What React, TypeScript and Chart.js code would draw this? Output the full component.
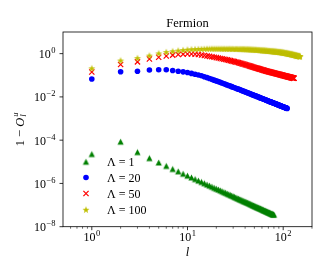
import React, { useEffect, useRef } from "react";
import { Chart, registerables } from "chart.js";

Chart.register(...registerables);

const TITLE = "Fermion";
const X_LABEL = "l";
const legendLabels = ["Λ = 1", "Λ = 20", "Λ = 50", "Λ = 100"];
const seriesColors = ["#008000", "#0000ff", "#ff0000", "#bfbf00"];

const xMajorTicks = [1, 10, 100];
const xTickExponents = ["0", "1", "2"];
const xMinorTicks = [0.6, 0.7, 0.8, 0.9, 2, 3, 4, 5, 6, 7, 8, 9, 20, 30, 40, 50, 60, 70, 80, 90, 200];
const yMajorTicks = [1e-8, 1e-6, 1e-4, 1e-2, 1];
const yTickExponents = ["−8", "−6", "−4", "−2", "0"];

// log10(1 - O_l^u), for l = 1, 2, 3, ...
const lambda1Log10 = [
  -4.64, -4.07, -4.55, -4.83, -5.03, -5.19, -5.33, -5.44, -5.55, -5.64,
  -5.72, -5.8, -5.87, -5.93, -5.99, -6.05, -6.1, -6.15, -6.2, -6.24,
  -6.28, -6.32, -6.36, -6.4, -6.43, -6.47, -6.5, -6.53, -6.56, -6.59,
  -6.62, -6.65, -6.68, -6.7, -6.73, -6.75, -6.77, -6.8, -6.82, -6.84,
  -6.86, -6.88, -6.9, -6.92, -6.94, -6.96, -6.98, -7.0, -7.02, -7.04,
  -7.05, -7.07, -7.09, -7.1, -7.12, -7.13, -7.15, -7.16, -7.18, -7.19,
  -7.21, -7.22, -7.24, -7.25, -7.26, -7.28, -7.29, -7.3, -7.32, -7.33,
  -7.34, -7.35, -7.36, -7.38, -7.39, -7.4, -7.41, -7.42, -7.43, -7.44,
];
const lambda20Log10 = [
  -1.17, -0.835, -0.815, -0.76, -0.745, -0.745, -0.78, -0.813, -0.842, -0.872,
  -0.913, -0.95, -0.985, -1.024, -1.069, -1.111, -1.15, -1.188, -1.225, -1.261,
  -1.295, -1.328, -1.36, -1.39, -1.42, -1.448, -1.474, -1.501, -1.526, -1.551,
  -1.574, -1.598, -1.621, -1.641, -1.663, -1.684, -1.705, -1.726, -1.745, -1.764,
  -1.783, -1.801, -1.819, -1.836, -1.854, -1.871, -1.887, -1.903, -1.918, -1.934,
  -1.95, -1.964, -1.978, -1.992, -2.006, -2.02, -2.034, -2.046, -2.06, -2.072,
  -2.085, -2.097, -2.109, -2.122, -2.134, -2.146, -2.156, -2.169, -2.179, -2.19,
  -2.2, -2.211, -2.221, -2.232, -2.242, -2.253, -2.261, -2.272, -2.282, -2.291,
  -2.299, -2.31, -2.319, -2.328, -2.336, -2.345, -2.356, -2.363, -2.371, -2.38,
  -2.389, -2.398, -2.405, -2.413, -2.422, -2.429, -2.438, -2.445, -2.453, -2.46,
  -2.467, -2.476, -2.483, -2.49, -2.497, -2.504, -2.511, -2.518, -2.525, -2.532,
];
const lambda50Log10 = [
  -0.85, -0.5, -0.38, -0.25, -0.17, -0.11, -0.07, -0.04, -0.025, -0.017,
  -0.02, -0.03, -0.043, -0.061, -0.085, -0.107, -0.127, -0.147, -0.167, -0.186,
  -0.205, -0.222, -0.24, -0.256, -0.272, -0.289, -0.306, -0.324, -0.34, -0.356,
  -0.371, -0.387, -0.402, -0.416, -0.43, -0.445, -0.461, -0.478, -0.492, -0.507,
  -0.522, -0.536, -0.549, -0.563, -0.576, -0.59, -0.602, -0.614, -0.626, -0.638,
  -0.65, -0.661, -0.672, -0.683, -0.694, -0.704, -0.715, -0.725, -0.736, -0.745,
  -0.754, -0.764, -0.773, -0.783, -0.792, -0.801, -0.809, -0.817, -0.824, -0.831,
  -0.838, -0.845, -0.852, -0.858, -0.865, -0.872, -0.878, -0.885, -0.892, -0.898,
  -0.903, -0.91, -0.916, -0.922, -0.927, -0.933, -0.94, -0.945, -0.95, -0.956,
  -0.962, -0.968, -0.972, -0.978, -0.984, -0.988, -0.994, -0.999, -1.004, -1.009,
  -1.014, -1.019, -1.024, -1.028, -1.033, -1.038, -1.042, -1.047, -1.051, -1.056,
  -1.061, -1.065, -1.07, -1.074, -1.079, -1.082, -1.087, -1.091, -1.096, -1.099,
  -1.104, -1.107, -1.112, -1.115, -1.12, -1.123, -1.128, -1.131, -1.136, -1.139,
];
const lambda100Log10 = [
  -0.68, -0.32, -0.21, -0.09, 0.01, 0.07, 0.11, 0.14, 0.165, 0.185,
  0.197, 0.205, 0.212, 0.217, 0.221, 0.224, 0.226, 0.228, 0.228, 0.227,
  0.226, 0.225, 0.224, 0.223, 0.222, 0.221, 0.22, 0.22, 0.219, 0.218,
  0.217, 0.216, 0.215, 0.213, 0.212, 0.211, 0.209, 0.208, 0.206, 0.204,
  0.202, 0.2, 0.197, 0.195, 0.192, 0.19, 0.187, 0.185, 0.183, 0.18,
  0.178, 0.176, 0.173, 0.171, 0.168, 0.165, 0.162, 0.159, 0.156, 0.153,
  0.15, 0.148, 0.145, 0.143, 0.14, 0.138, 0.135, 0.132, 0.129, 0.127,
  0.124, 0.121, 0.118, 0.116, 0.113, 0.11, 0.108, 0.105, 0.103, 0.1,
  0.097, 0.095, 0.092, 0.09, 0.087, 0.085, 0.082, 0.08, 0.077, 0.075,
  0.072, 0.07, 0.067, 0.064, 0.061, 0.058, 0.055, 0.051, 0.048, 0.045,
  0.041, 0.038, 0.034, 0.031, 0.027, 0.024, 0.02, 0.017, 0.013, 0.01,
  0.006, 0.003, -0.001, -0.004, -0.008, -0.011, -0.015, -0.018, -0.022, -0.025,
  -0.029, -0.032, -0.036, -0.039, -0.043, -0.046, -0.05, -0.054, -0.058, -0.061,
  -0.065, -0.069, -0.073, -0.076, -0.08, -0.084, -0.088, -0.092, -0.096, -0.1,
  -0.103, -0.106, -0.109, -0.112, -0.114, -0.117, -0.12, -0.122, -0.125, -0.128,
];

const SERIF = "'Liberation Serif', 'DejaVu Serif', serif";

function makeTriangle(color: string): HTMLCanvasElement {
  const s = 9;
  const c = document.createElement("canvas");
  c.width = s;
  c.height = s;
  const g = c.getContext("2d")!;
  g.fillStyle = color;
  const cx = s / 2, cy = s / 2, h = 3.1;
  g.beginPath();
  g.moveTo(cx, cy - h);
  g.lineTo(cx + h, cy + h);
  g.lineTo(cx - h, cy + h);
  g.closePath();
  g.fill();
  return c;
}

function makeStar(color: string): HTMLCanvasElement {
  const s = 10;
  const c = document.createElement("canvas");
  c.width = s;
  c.height = s;
  const g = c.getContext("2d")!;
  g.fillStyle = color;
  const cx = s / 2, cy = s / 2 + 0.3, R = 3.7, r = 1.5;
  g.beginPath();
  for (let i = 0; i < 10; i++) {
    const a = -Math.PI / 2 + (i * Math.PI) / 5;
    const rad = i % 2 === 0 ? R : r;
    const px = cx + Math.cos(a) * rad;
    const py = cy + Math.sin(a) * rad;
    if (i === 0) g.moveTo(px, py);
    else g.lineTo(px, py);
  }
  g.closePath();
  g.fill();
  return c;
}

function toPoints(arr: number[]) {
  return arr.map((lv, i) => ({ x: i + 1, y: Math.pow(10, lv) }));
}

function drawPow(ctx: CanvasRenderingContext2D, x: number, y: number, exp: string, align: "center" | "right") {
  const big = `12px ${SERIF}`;
  const small = `8.5px ${SERIF}`;
  ctx.font = big;
  const w10 = ctx.measureText("10").width;
  ctx.font = small;
  const we = ctx.measureText(exp).width;
  const w = w10 + we + 0.5;
  const start = align === "center" ? x - w / 2 : x - w;
  ctx.textAlign = "left";
  ctx.textBaseline = "alphabetic";
  ctx.font = big;
  ctx.fillText("10", start, y);
  ctx.font = small;
  ctx.fillText(exp, start + w10 + 0.5, y - 5);
}

export default function App() {
  const ref = useRef<HTMLCanvasElement>(null);

  useEffect(() => {
    document.body.style.margin = "0";
    const canvas = ref.current;
    if (!canvas) return;
    const triangle = makeTriangle(seriesColors[0]);
    const star = makeStar(seriesColors[3]);

    const decorPlugin = {
      id: "decor",
      afterDraw(chart: any) {
        const ctx: CanvasRenderingContext2D = chart.ctx;
        const ca = chart.chartArea;
        const xs = chart.scales.x;
        const ys = chart.scales.y;
        ctx.save();
        ctx.strokeStyle = "#000";
        ctx.fillStyle = "#000";
        ctx.lineWidth = 0.8;
        ctx.strokeRect(ca.left, ca.top, ca.right - ca.left, ca.bottom - ca.top);

        ctx.beginPath();
        xMajorTicks.forEach((v) => {
          const px = xs.getPixelForValue(v);
          ctx.moveTo(px, ca.bottom);
          ctx.lineTo(px, ca.bottom + 3.5);
        });
        yMajorTicks.forEach((v) => {
          const py = ys.getPixelForValue(v);
          ctx.moveTo(ca.left, py);
          ctx.lineTo(ca.left - 3.5, py);
        });
        ctx.stroke();
        ctx.lineWidth = 0.6;
        ctx.beginPath();
        xMinorTicks.forEach((v) => {
          const px = xs.getPixelForValue(v);
          ctx.moveTo(px, ca.bottom);
          ctx.lineTo(px, ca.bottom + 2);
        });
        ctx.stroke();

        xMajorTicks.forEach((v, i) => {
          drawPow(ctx, xs.getPixelForValue(v), ca.bottom + 14.5, xTickExponents[i], "center");
        });
        yMajorTicks.forEach((v, i) => {
          drawPow(ctx, ca.left - 7.5, ys.getPixelForValue(v) + 4.5, yTickExponents[i], "right");
        });

        ctx.textAlign = "center";
        ctx.textBaseline = "alphabetic";
        ctx.font = `12.5px ${SERIF}`;
        ctx.fillText(TITLE, (ca.left + ca.right) / 2, ca.top - 5);

        ctx.font = `italic 12.5px ${SERIF}`;
        ctx.fillText(X_LABEL, (ca.left + ca.right) / 2, ca.bottom + 29.5);

        ctx.save();
        ctx.translate(19, (ca.top + ca.bottom) / 2);
        ctx.rotate(-Math.PI / 2);
        ctx.textAlign = "left";
        const f1 = `12.5px ${SERIF}`;
        const fi = `italic 12.5px ${SERIF}`;
        const fs = `italic 8.5px ${SERIF}`;
        ctx.font = f1;
        const wA = ctx.measureText("1 − ").width;
        ctx.font = fi;
        const wO = ctx.measureText("O").width;
        ctx.font = fs;
        const wS = Math.max(ctx.measureText("u").width, ctx.measureText("l").width);
        const total = wA + wO + 1 + wS;
        let sx = -total / 2;
        const by = 4.5;
        ctx.font = f1;
        ctx.fillText("1 − ", sx, by);
        sx += wA;
        ctx.font = fi;
        ctx.fillText("O", sx, by);
        sx += wO + 1;
        ctx.font = fs;
        ctx.fillText("u", sx, by - 5.5);
        ctx.fillText("l", sx, by + 2.5);
        ctx.restore();

        const lx = ca.left + 23;
        const tx = ca.left + 44;
        const rows = [161.7, 177.5, 193.5, 209.7];
        ctx.font = `12px ${SERIF}`;
        ctx.textAlign = "left";
        ctx.textBaseline = "alphabetic";
        rows.forEach((ry, i) => {
          if (i === 0) ctx.drawImage(triangle, lx - triangle.width / 2, ry - triangle.height / 2);
          if (i === 1) {
            ctx.fillStyle = seriesColors[1];
            ctx.beginPath();
            ctx.arc(lx, ry, 2.8, 0, Math.PI * 2);
            ctx.fill();
          }
          if (i === 2) {
            ctx.strokeStyle = seriesColors[2];
            ctx.lineWidth = 1.2;
            ctx.beginPath();
            ctx.moveTo(lx - 2.6, ry - 2.6);
            ctx.lineTo(lx + 2.6, ry + 2.6);
            ctx.moveTo(lx - 2.6, ry + 2.6);
            ctx.lineTo(lx + 2.6, ry - 2.6);
            ctx.stroke();
          }
          if (i === 3) ctx.drawImage(star, lx - star.width / 2, ry - star.height / 2);
          ctx.fillStyle = "#000";
          ctx.fillText(legendLabels[i], tx, ry + 4.3);
        });
        ctx.restore();
      },
    };

    const chart = new Chart(canvas, {
      type: "scatter",
      data: {
        datasets: [
          {
            label: legendLabels[0],
            data: toPoints(lambda1Log10),
            pointStyle: triangle as any,
            backgroundColor: seriesColors[0],
            borderColor: seriesColors[0],
            order: 3,
          },
          {
            label: legendLabels[1],
            data: toPoints(lambda20Log10),
            pointStyle: "circle",
            pointRadius: 2.8,
            borderWidth: 0,
            backgroundColor: seriesColors[1],
            borderColor: seriesColors[1],
            order: 2,
          },
          {
            label: legendLabels[2],
            data: toPoints(lambda50Log10),
            pointStyle: "crossRot",
            pointRadius: 3.7,
            borderWidth: 1.2,
            backgroundColor: seriesColors[2],
            borderColor: seriesColors[2],
            order: 1,
          },
          {
            label: legendLabels[3],
            data: toPoints(lambda100Log10),
            pointStyle: star as any,
            backgroundColor: seriesColors[3],
            borderColor: seriesColors[3],
            order: 0,
          },
        ],
      },
      options: {
        responsive: false,
        animation: false,
        devicePixelRatio: 1,
        layout: { padding: { top: 32, right: 20, left: 0, bottom: 0 } },
        plugins: {
          legend: { display: false },
          tooltip: { enabled: false },
          title: { display: false },
        },
        events: [],
        scales: {
          x: {
            type: "logarithmic",
            min: 0.5,
            max: 200,
            grid: { display: false },
            border: { display: false },
            ticks: { display: false },
            afterFit: (s: any) => {
              s.height = 50.3;
            },
          },
          y: {
            type: "logarithmic",
            min: 1e-8,
            max: 10,
            grid: { display: false },
            border: { display: false },
            ticks: { display: false },
            afterFit: (s: any) => {
              s.width = 63;
            },
          },
        },
      } as any,
      plugins: [decorPlugin],
    });
    return () => chart.destroy();
  }, []);

  return (
    <div style={{ position: "fixed", left: 0, top: 0, width: 332, height: 277, background: "#fff" }}>
      <canvas ref={ref} width={332} height={277} style={{ width: 332, height: 277, display: "block" }} />
    </div>
  );
}
